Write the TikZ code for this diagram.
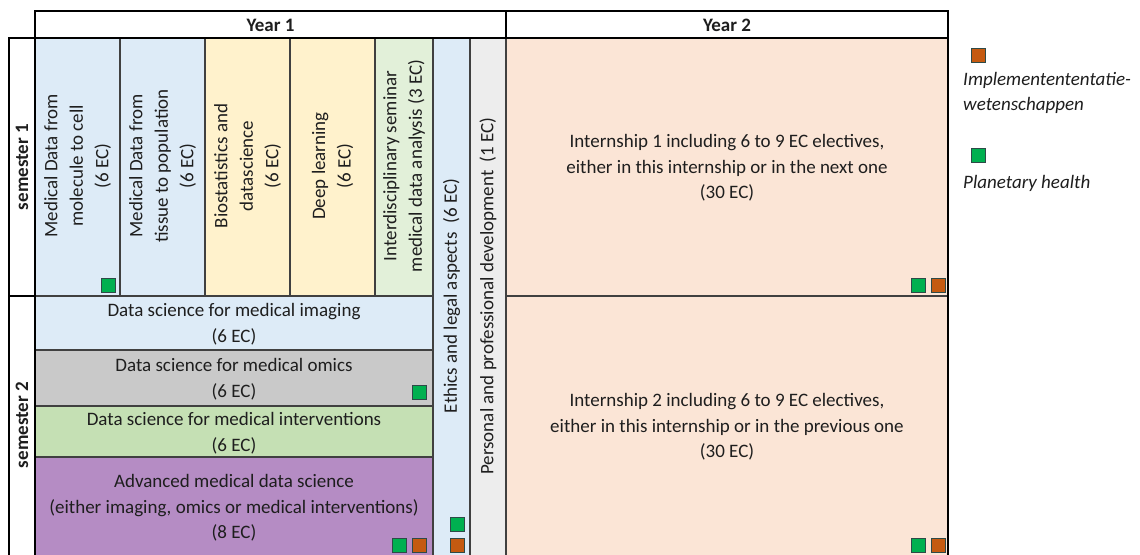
\documentclass[tikz,border=0pt]{standalone}
\usepackage{fontspec}
\setmainfont{Carlito}
\definecolor{blueC}{HTML}{DDEBF7}
\definecolor{yellowC}{HTML}{FFF2CC}
\definecolor{lgreenC}{HTML}{E2F0D9}
\definecolor{greyC}{HTML}{EDEDED}
\definecolor{peachC}{HTML}{FBE5D6}
\definecolor{omicsC}{HTML}{C9C9C9}
\definecolor{intvC}{HTML}{C5E0B4}
\definecolor{purpleC}{HTML}{B58CC4}
\definecolor{gridC}{HTML}{404040}
\definecolor{txtC}{HTML}{1E1E1E}
\definecolor{planetC}{HTML}{00B050}
\definecolor{implC}{HTML}{C55A11}
\definecolor{sqedgeC}{HTML}{2E4A48}
\begin{document}
\begin{tikzpicture}[x=1pt,y=-1pt,
  cell/.style={draw=gridC, line width=1.3pt},
  frame/.style={draw=black, line width=2.2pt},
  lbl/.style={font=\fontsize{19}{25.5}\selectfont, align=center, text=txtC, inner sep=0pt},
  vlbl/.style={lbl, rotate=90},
  head/.style={lbl, font=\fontsize{19}{23}\selectfont\bfseries},
  vhead/.style={head, rotate=90},
  legend/.style={font=\fontsize{19}{25}\selectfont\itshape, align=left, text=txtC, inner sep=0pt, anchor=west},
  sq/.style={draw=sqedgeC, line width=1.2pt, minimum size=14pt, inner sep=0pt},
  planet/.style={sq, fill=planetC},
  impl/.style={sq, fill=implC}]
\useasboundingbox (0,0) rectangle (1140,554);

% semester 1 course columns
\path[cell, fill=blueC]   (35,38)  rectangle (120,296);
\path[cell, fill=blueC]   (120,38) rectangle (205,296);
\path[cell, fill=yellowC] (205,38) rectangle (290,296);
\path[cell, fill=yellowC] (290,38) rectangle (375,296);
\path[cell, fill=lgreenC] (375,38) rectangle (433,296);
% year-long columns
\path[cell, fill=blueC]   (433,38) rectangle (470,558);
\path[cell, fill=greyC]   (470,38) rectangle (506,558);
% semester 2 rows
\path[cell, fill=blueC]   (35,296)  rectangle (433,350);
\path[cell, fill=omicsC]  (35,350)  rectangle (433,406);
\path[cell, fill=intvC]   (35,406)  rectangle (433,457);
\path[cell, fill=purpleC] (35,457)  rectangle (433,558);
% year 2 internships
\path[cell, fill=peachC]  (506,38)  rectangle (948,296);
\path[cell, fill=peachC]  (506,296) rectangle (948,558);

% outer frame: header row and semester column
\path[frame, fill=white] (35,11) rectangle (506,38);
\path[frame, fill=white] (506,11) rectangle (948,38);
\draw[frame] (948,38) -- (948,558);
\path[frame] (9,38) rectangle (35,296);
\path[frame] (9,296) -- (9,558) (35,296) -- (35,558);

% headers
\node[head]  (y1) at (270.5,25) {Year 1};
\node[head]  (y2) at (727,25) {Year 2};
\node[vhead] (s1) at (22,167) {semester 1};
\node[vhead] (s2) at (22,425) {semester 2};

% semester 1 courses
\node[vlbl] (c1) at (77.5,166) {Medical Data from\\molecule to cell\\(6 EC)};
\node[vlbl] (c2) at (162.5,166) {Medical Data from\\tissue to population\\(6 EC)};
\node[vlbl] (c3) at (247.5,166) {Biostatistics and\\datascience\\(6 EC)};
\node[vlbl] (c4) at (332.5,166) {Deep learning\\(6 EC)};
\node[vlbl] (c5) at (404,166) {Interdisciplinary seminar\\medical data analysis (3 EC)};
\node[vlbl] (eth) at (451.5,296) {Ethics and legal aspects\ \ (6 EC)};
\node[vlbl] (ppd) at (488,296) {Personal and professional development\ \ (1 EC)};

% semester 2 courses
\node[lbl] (r1) at (234,324) {Data science for medical imaging\\(6 EC)};
\node[lbl] (r2) at (234,379) {Data science for medical omics\\(6 EC)};
\node[lbl] (r3) at (234,433) {Data science for medical interventions\\(6 EC)};
\node[lbl] (r4) at (234,508) {Advanced medical data science\\(either imaging, omics or medical interventions)\\(8 EC)};

% internships
\node[lbl] (i1) at (727,168) {Internship 1 including 6 to 9 EC electives,\\either in this internship or in the next one\\(30 EC)};
\node[lbl] (i2) at (727,427) {Internship 2 including 6 to 9 EC electives,\\either in this internship or in the previous one\\(30 EC)};

% theme markers
\node[planet] (m1)  at (108.5,285.5) {};
\node[planet] (m2)  at (419.5,392.5) {};
\node[planet] (m3)  at (399.5,545.5) {};
\node[impl]   (m4)  at (419.5,545.5) {};
\node[planet] (m5)  at (457.5,524.5) {};
\node[impl]   (m6)  at (457.5,545.5) {};
\node[planet] (m7)  at (918.5,285.5) {};
\node[impl]   (m8)  at (938.5,285.5) {};
\node[planet] (m9)  at (918.5,545.5) {};
\node[impl]   (m10) at (938.5,545.5) {};

% legend
\node[impl]   (k1) at (978.5,55.5) {};
\node[legend] (t1) at (963,92.5) {Implementententatie-\\wetenschappen};
\node[planet] (k2) at (978.5,155.5) {};
\node[legend] (t2) at (963,183) {Planetary health};
\end{tikzpicture}
\end{document}
